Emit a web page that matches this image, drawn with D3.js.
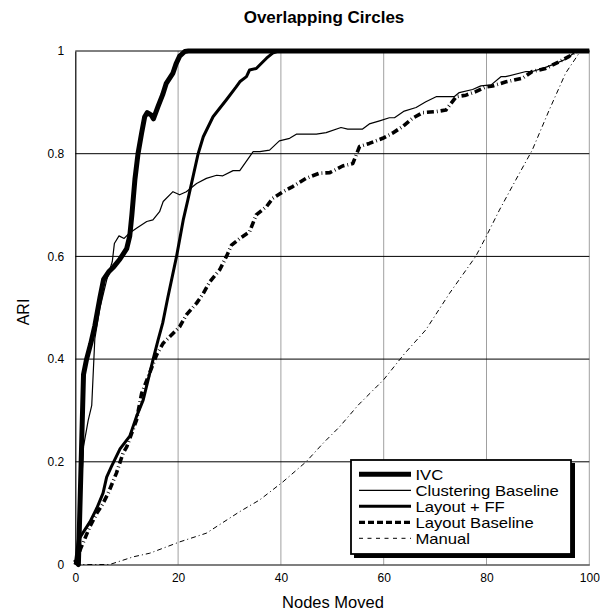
<!DOCTYPE html>
<html><head><meta charset="utf-8">
<script src="https://cdn.jsdelivr.net/npm/d3@7"></script>
<style>body{margin:0;background:#fff}svg{display:block;font-family:"Liberation Sans",Arial,sans-serif}</style>
</head><body>
<svg id="c" width="600" height="611"></svg>
<script>
const title = "Overlapping Circles";
const xLabel = "Nodes Moved";
const yLabel = "ARI";
const xTicks = [0, 20, 40, 60, 80, 100];
const yTicks = [0, 0.2, 0.4, 0.6, 0.8, 1];
const seriesNames = ["IVC", "Clustering Baseline", "Layout + FF", "Layout Baseline", "Manual"];

const ivc = [[0,0.01],[0.6,0],[1.6,0.37],[2.2,0.40],[3,0.43],[3.8,0.465],[4.8,0.52],[5.5,0.555],[6.5,0.57],[7.5,0.58],[8.7,0.595],[10,0.615],[10.6,0.64],[11,0.68],[11.6,0.75],[12.2,0.80],[12.9,0.84],[13.5,0.872],[14,0.88],[14.8,0.875],[15.2,0.868],[16.1,0.892],[17,0.915],[17.7,0.937],[19,0.957],[19.6,0.975],[20.3,0.99],[21.3,0.999],[22,1],[100,1]];
const clustering = [[0,0],[0.6,0.03],[1.2,0.15],[1.6,0.23],[2.5,0.28],[3.2,0.31],[3.8,0.44],[4.8,0.5],[6.1,0.554],[7.2,0.59],[7.6,0.625],[8.5,0.64],[9.5,0.635],[10.5,0.645],[11.9,0.655],[13.9,0.668],[15.1,0.671],[16.4,0.687],[17.1,0.707],[19,0.726],[20.3,0.72],[21.6,0.726],[23.6,0.742],[25.5,0.752],[27.5,0.758],[28.7,0.757],[30.7,0.767],[32,0.767],[34.6,0.804],[35.9,0.804],[37.8,0.807],[39.7,0.825],[41.7,0.83],[43,0.838],[46.9,0.838],[48.8,0.841],[51.7,0.851],[53,0.848],[55.9,0.848],[57.2,0.858],[59.2,0.864],[61.1,0.87],[62.1,0.87],[64,0.883],[66.3,0.89],[68.2,0.901],[70.2,0.911],[73.7,0.911],[74.7,0.919],[77.3,0.925],[78.9,0.932],[80.9,0.934],[82.8,0.95],[83.7,0.95],[87.7,0.96],[88.9,0.96],[91.5,0.968],[93.5,0.976],[95.4,0.984],[97.4,0.999],[98,1],[100,1]];
const layoutFF = [[0,0],[0.6,0.048],[2.85,0.083],[4.2,0.11],[5.4,0.139],[6.1,0.17],[7,0.19],[8.7,0.225],[10.6,0.25],[11.9,0.288],[13.2,0.32],[14.5,0.373],[15.1,0.398],[16.1,0.437],[17,0.47],[18,0.52],[19.7,0.6],[21,0.671],[21.9,0.71],[23.9,0.80],[24.9,0.833],[26.8,0.872],[29.4,0.905],[31.3,0.93],[32,0.94],[33.3,0.95],[33.9,0.963],[35.2,0.966],[37.2,0.986],[38.4,0.996],[39.5,1],[100,1]];
const layoutBase = [[0,0],[1,0.03],[2.85,0.074],[4.2,0.1],[5.4,0.119],[6.4,0.139],[8,0.178],[9.3,0.217],[10,0.229],[11.9,0.281],[12.9,0.333],[14.2,0.366],[15.8,0.408],[17.1,0.431],[19,0.45],[20.3,0.463],[21.6,0.486],[23.6,0.509],[24.9,0.528],[26.2,0.551],[28.1,0.574],[29.4,0.6],[30.4,0.622],[32,0.635],[33.9,0.648],[35.2,0.681],[37.2,0.697],[38.4,0.713],[40.4,0.726],[42.3,0.736],[44.9,0.752],[47.5,0.762],[49.5,0.763],[52,0.776],[54,0.781],[55.3,0.814],[57.2,0.82],[59.8,0.83],[61.7,0.84],[63.7,0.853],[65.6,0.869],[67.6,0.88],[70.2,0.882],[72.1,0.885],[74.1,0.911],[76,0.914],[77.9,0.921],[79.9,0.93],[81.2,0.932],[83.8,0.94],[87,0.947],[88.9,0.96],[91.5,0.966],[94.1,0.979],[96,0.989],[97.4,0.999],[98,1],[100,1]];
const manual = [[0,0],[6.7,0],[11.3,0.015],[14.5,0.022],[20.3,0.044],[25.5,0.061],[32,0.103],[35.9,0.126],[40.4,0.161],[44.9,0.2],[48.2,0.236],[51.4,0.268],[55,0.31],[60,0.36],[64,0.41],[68.2,0.457],[72.8,0.528],[77.9,0.6],[79.9,0.638],[82.5,0.69],[85.7,0.749],[88.9,0.807],[92.2,0.885],[95.4,0.957],[98.3,1],[100,1]];

const svg = d3.select("#c");
const x = d3.scaleLinear().domain([0, 100]).range([75.3, 589.3]);
const y = d3.scaleLinear().domain([0, 1]).range([564.5, 51]);

// vertical gray grid
svg.append("g").selectAll("line").data(xTicks.filter(d => d > 0)).join("line")
  .attr("x1", d => x(d)).attr("x2", d => x(d)).attr("y1", y(0)).attr("y2", y(1))
  .attr("stroke", "#a0a0a0").attr("stroke-width", 1);
// horizontal black grid
svg.append("g").selectAll("line").data(yTicks.filter(d => d > 0)).join("line")
  .attr("x1", x(0)).attr("x2", x(100)).attr("y1", d => y(d)).attr("y2", d => y(d))
  .attr("stroke", "#000").attr("stroke-width", 1);

// axes
const xAxis = svg.append("g").attr("transform", `translate(0,${y(0)})`)
  .call(d3.axisBottom(x).tickValues(xTicks).tickSize(0).tickPadding(9).tickFormat(d3.format("d")));
const yAxis = svg.append("g").attr("transform", `translate(${x(0)},0)`)
  .call(d3.axisLeft(y).tickValues(yTicks).tickSize(0).tickPadding(11).tickFormat(d => d === 0 || d === 1 ? String(d) : d3.format(".1f")(d)));
[xAxis, yAxis].forEach(a => {
  a.select(".domain").attr("stroke", "#000").attr("stroke-width", 1.2);
  a.selectAll("text").attr("font-size", 12).attr("fill", "#000").attr("font-family", "Liberation Sans, Arial, sans-serif");
});

const line = d3.line().x(d => x(d[0])).y(d => y(d[1]));
const styles = [
  {data: manual, w: 1, dash: "5,3,1,3"},
  {data: layoutBase, w: 3.6, dash: "7,3,0.8,3"},
  {data: clustering, w: 1.2, dash: null},
  {data: layoutFF, w: 3, dash: null},
  {data: ivc, w: 5, dash: null}
];
styles.forEach(s => {
  svg.append("path").datum(s.data).attr("d", line)
    .attr("fill", "none").attr("stroke", "#000").attr("stroke-width", s.w)
    .attr("stroke-linejoin", "round")
    .attr("stroke-dasharray", s.dash);
});

// titles
svg.append("text").attr("x", 324).attr("y", 23).attr("text-anchor", "middle")
  .attr("font-size", 17).attr("font-weight", "bold").text(title);
svg.append("text").attr("x", 333).attr("y", 608).attr("text-anchor", "middle")
  .attr("font-size", 16.5).text(xLabel);
svg.append("text").attr("transform", "translate(29,312) rotate(-90)").attr("text-anchor", "middle")
  .attr("font-size", 16).text(yLabel);

// legend
const lg = svg.append("g");
lg.append("rect").attr("x", 354).attr("y", 463).attr("width", 221).attr("height", 95).attr("fill", "#000");
lg.append("rect").attr("x", 351).attr("y", 460).attr("width", 220).attr("height", 94)
  .attr("fill", "#fff").attr("stroke", "#000").attr("stroke-width", 1.8);
const legStyles = [
  {w: 5, dash: null}, {w: 1.2, dash: null}, {w: 3, dash: null}, {w: 3.2, dash: "6,3"}, {w: 1, dash: "4,4.5"}
];
seriesNames.forEach((n, i) => {
  const yy = 474.3 + i * 16;
  lg.append("line").attr("x1", 359).attr("x2", 411).attr("y1", yy).attr("y2", yy)
    .attr("stroke", "#000").attr("stroke-width", legStyles[i].w).attr("stroke-dasharray", legStyles[i].dash);
  lg.append("text").attr("transform", `translate(415.5,${yy + 5.3}) scale(1.14,1)`)
    .attr("font-size", 14.6).text(n);
});
</script>
</body></html>
